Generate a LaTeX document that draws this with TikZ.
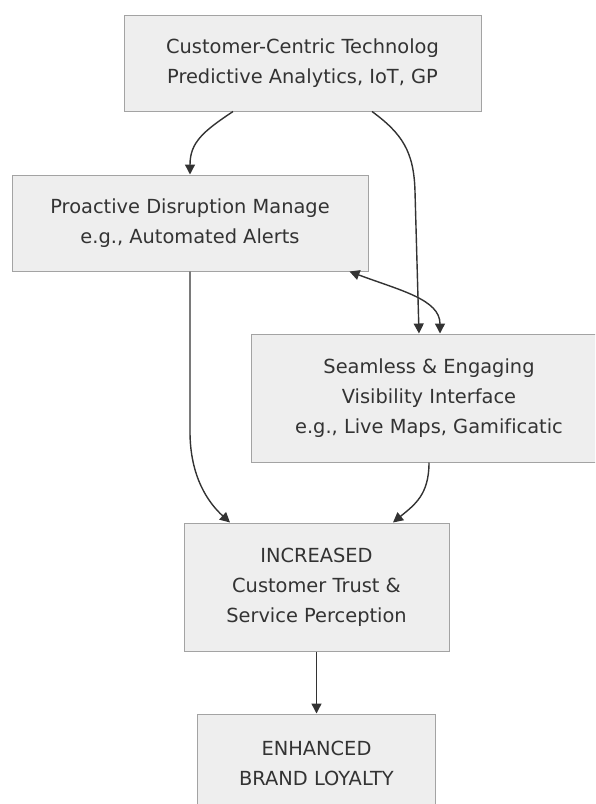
\documentclass[tikz,border=0pt]{standalone}
\usepackage{fontspec}
\setmainfont{DejaVu Sans}[Ligatures={NoCommon}]
\usetikzlibrary{arrows.meta, calc, positioning}
\definecolor{boxfill}{HTML}{EEEEEE}
\definecolor{boxline}{HTML}{A3A3A3}
\definecolor{edgegray}{HTML}{333333}

\begin{document}
\begin{tikzpicture}[x=1pt, y=-1pt, >={Triangle[length=10pt,width=10pt]},
    box/.style={draw=boxline, fill=boxfill, line width=1pt, rectangle, align=center, inner sep=0pt, text=edgegray, font=\fontsize{19.4}{30}\selectfont},
    link/.style={->, line width=1.4pt, draw=edgegray}]
    \useasboundingbox (0,0) rectangle (595,804);
    \clip (0,0) rectangle (595,804);

    % Technology source
    \node[box, minimum width=357pt, minimum height=96pt] (tech) at (302.5,63) {Customer-Centric Technolog\\Predictive Analytics, IoT, GP};

    % Middle layer
    \node[box, minimum width=356pt, minimum height=96pt] (proactive) at (190,223) {Proactive Disruption Manage\\e.g., Automated Alerts};
    \node[box, minimum width=356pt, minimum height=128pt] (interface) at (429,398) {Seamless \& Engaging\\Visibility Interface\\e.g., Live Maps, Gamificatic};

    % Outcomes
    \node[box, minimum width=265pt, minimum height=128pt] (trust) at (316.5,587) {INCREASED\\Customer Trust \&\\Service Perception};
    \node[box, minimum width=238pt, minimum height=98pt, below=62pt of trust] (loyalty) {ENHANCED\\BRAND LOYALTY};

    % Technology feeds both
    \draw[link] ([xshift=-69.5pt]tech.south) .. controls +(-30,20) and +(0,-32) .. (proactive.north);
    \draw[link] ([xshift=69.5pt]tech.south) .. controls +(30,22) and +(-1,-40) .. ++(43,80) -- ([xshift=-10pt]interface.north);
    \draw[link, <->] ([xshift=-19pt]proactive.south east) .. controls +(51,19) and +(0,-34) .. ([xshift=11pt]interface.north);

    % Into trust
    \draw[link] (proactive.south) -- ++(0,160) .. controls +(0,45) and +(-22,-20) .. ([xshift=-86.5pt]trust.north);
    \draw[link] (interface.south) .. controls +(0,32) and +(22,-18) .. ([xshift=76.5pt]trust.north);
    \draw[link] (trust) -- (loyalty);
\end{tikzpicture}
\end{document}
